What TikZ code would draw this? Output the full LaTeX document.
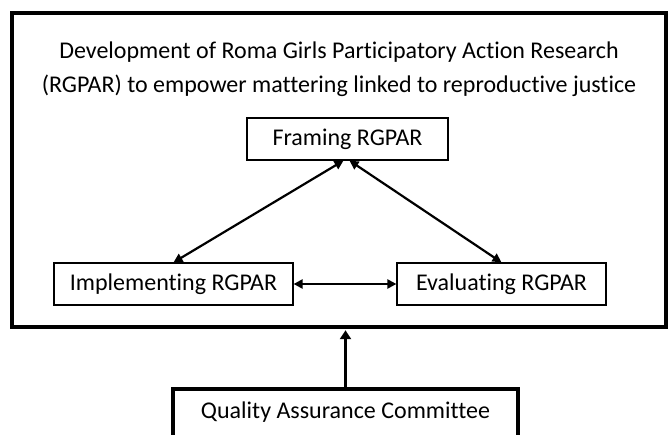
\documentclass[tikz,border=0pt]{standalone}
\usepackage{fontspec}
\setmainfont{Carlito}[Ligatures=NoCommon]
\usetikzlibrary{arrows.meta}
\begin{document}
\begin{tikzpicture}[x=1pt,y=-1pt,
  box/.style={draw, line width=1.2pt, inner sep=0pt, font=\fontsize{24}{28}\selectfont},
  bigbox/.style={draw, line width=3.5pt, inner sep=0pt},
  link/.style={line width=2.2pt, {Triangle[length=9pt,width=9pt]}-{Triangle[length=9pt,width=9pt]}},
  uplink/.style={line width=3.5pt, -{Triangle[length=9pt,width=11pt]}}]
\clip (0,0) rectangle (669,435);
\fill[white] (0,0) rectangle (669,435);
\node[bigbox, minimum width=654pt, minimum height=314pt] (outer) at (339,170) {};
\node[font=\fontsize{24}{34}\selectfont, align=center] (title) at (339,69)
  {Development of Roma Girls Participatory Action Research\\(RGPAR) to empower mattering linked to reproductive justice};
\node[box, minimum width=201pt, minimum height=42pt] (F) at (347.5,139) {Framing RGPAR};
\node[box, minimum width=239pt, minimum height=42pt] (I) at (173.5,284) {Implementing RGPAR};
\node[box, minimum width=209pt, minimum height=42pt] (E) at (501.5,284) {Evaluating RGPAR};
\node[bigbox, minimum width=345pt, minimum height=80pt, anchor=north] (Q) at (345.5,387) {};
\node[font=\fontsize{24}{28}\selectfont] (qt) at (345.5,412) {Quality Assurance Committee};
\draw[link] ([xshift=-4pt]F.south) -- (I.north);
\draw[link] ([xshift=2pt]F.south) -- (E.north);
\draw[link] (I.east) -- (E.west);
\draw[uplink] (Q.north) -- ([yshift=-1.5pt]Q.north |- outer.south);
\end{tikzpicture}
\end{document}
